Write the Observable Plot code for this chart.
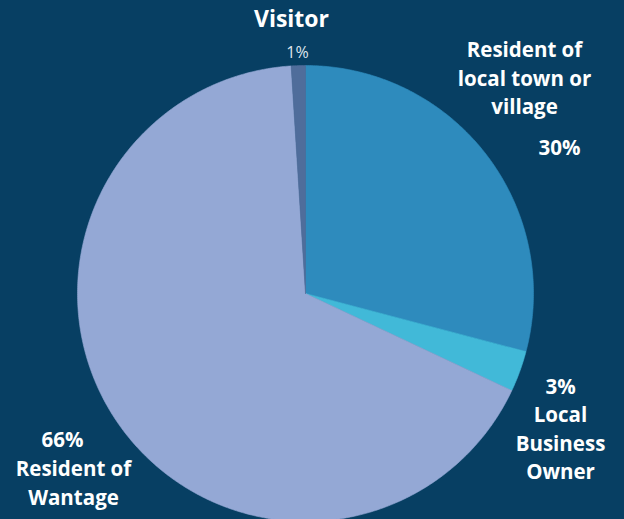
<!DOCTYPE html>
<html><head><meta charset="utf-8">
<script src="https://cdn.jsdelivr.net/npm/d3@7"></script>
<script src="https://cdn.jsdelivr.net/npm/@observablehq/plot@0.6"></script>
<style>
html,body{margin:0;padding:0;background:#073f63;}
#chart svg{display:block;}
</style>
</head><body><div id="chart"></div>
<script>
// Data (clockwise from 12 o'clock)
const categories = ["Resident of local town or village", "Local Business Owner", "Resident of Wantage", "Visitor"];
const shares = [29.1, 2.9, 67.0, 1.0];
const percentLabels = ["30%", "3%", "66%", "1%"];
const colors = ["#2e8bbd", "#41b9d8", "#94a8d5", "#4f6d9b"];

// Layout (pixel space, used through identity-like scales)
const W = 624, H = 519;
const cx = 305, cy = 293, R = 228;

const pie = d3.pie().sort(null).value(d => d.value);
const arcs = pie(categories.map((c, i) => ({name: c, value: shares[i]})));
const poly = [];
arcs.forEach(a => {
  poly.push({name: a.data.name, x: cx, y: cy});
  const n = Math.max(4, Math.ceil((a.endAngle - a.startAngle) / (Math.PI / 360)));
  for (let k = 0; k <= n; k++) {
    const t = a.startAngle + (a.endAngle - a.startAngle) * k / n;
    poly.push({name: a.data.name, x: cx + R * Math.sin(t), y: cy - R * Math.cos(t)});
  }
  poly.push({name: a.data.name, x: cx, y: cy});
});

const labels = [
  {text: "Visitor", x: 291, y: 17, size: 23, weight: 700, fill: "#ffffff"},
  {text: percentLabels[3], x: 297, y: 48, size: 16, weight: 400, fill: "#dfe5ee"},
  {text: "Resident of\nlocal town or\nvillage", x: 524, y: 76, size: 20.5, weight: 700, fill: "#ffffff"},
  {text: percentLabels[0], x: 559, y: 145, size: 20.5, weight: 700, fill: "#ffffff"},
  {text: percentLabels[1] + "\nLocal\nBusiness\nOwner", x: 560, y: 427, size: 20.5, weight: 700, fill: "#ffffff"},
  {text: percentLabels[2], x: 62, y: 437, size: 20.5, weight: 700, fill: "#ffffff"},
  {text: "Resident of\nWantage", x: 73, y: 481, size: 20.5, weight: 700, fill: "#ffffff"}
];

const textMarks = labels.map(l => Plot.text([l], {
  x: "x", y: "y", text: "text", fill: l.fill, fontSize: l.size, fontWeight: l.weight,
  textAnchor: "middle", lineAnchor: "middle", lineHeight: 28.3 / l.size
}));

const chart = Plot.plot({
  width: W, height: H, margin: 0,
  style: {background: "#073f63", fontFamily: "'Open Sans', sans-serif"},
  x: {domain: [0, W], range: [0, W], axis: null},
  y: {domain: [0, H], range: [0, H], axis: null},
  color: {domain: categories, range: colors},
  marks: [
    Plot.line(poly, {x: "x", y: "y", z: "name", fill: "name", stroke: "name", strokeWidth: 0.6, curve: "linear"}),
    ...textMarks
  ]
});
document.getElementById("chart").appendChild(chart);
</script>
</body></html>
